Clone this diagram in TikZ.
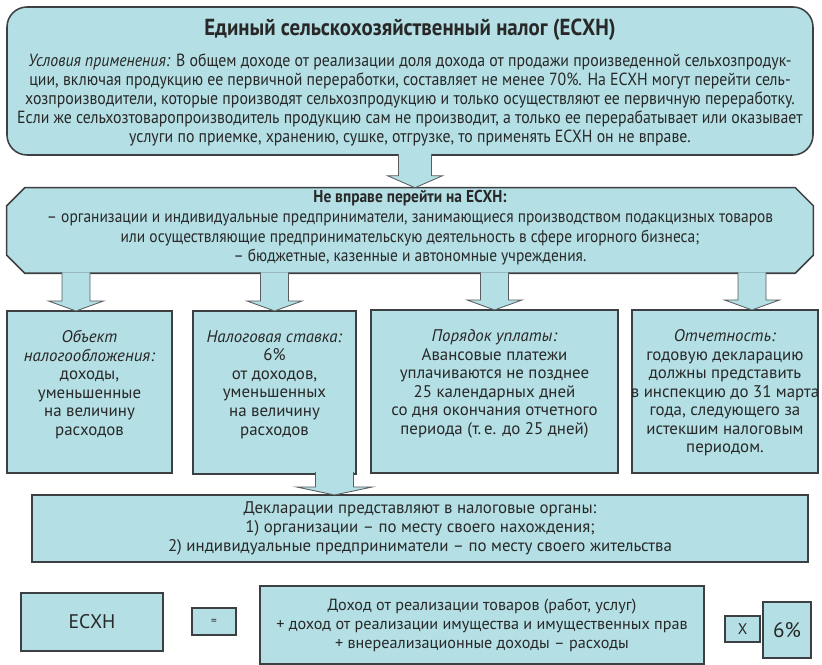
\documentclass[tikz,border=0pt]{standalone}
\usepackage{fontspec}
\setmainfont{PT Sans}
\newfontfamily\narrowfont[FakeStretch=0.9]{PT Sans}
\usepackage{tikz}
\usetikzlibrary{calc}

\definecolor{boxfill}{RGB}{180,223,228}
\definecolor{boxline}{RGB}{60,64,66}
\definecolor{textgray}{RGB}{40,40,40}

\tikzset{
	infobox/.style={shape=rectangle, draw=boxline, fill=boxfill, line width=1.1pt, inner sep=0pt, outer sep=0pt},
	boxpath/.style={draw=boxline, fill=boxfill, line width=1.1pt},
	arrowbody/.style={fill=boxfill, draw=boxline!85, line width=0.6pt},
	boxtext/.style={anchor=north, align=center, inner sep=0pt, text=textgray, font=\fontsize{12}{13.2}\selectfont},
	plaintext/.style={anchor=center, align=center, inner sep=0pt, text=textgray},
}

% wide block arrow: start, tip, shaft half width, head half width, head length
\newcommand{\blockarrow}[5]{%
	\filldraw[arrowbody] let \p1=(#1), \p2=(#2) in
		(\x2-#3,\y1) -- (\x2-#3,\y2+#5) -- (\x2-#4,\y2+#5) -- (\x2,\y2)
		-- (\x2+#4,\y2+#5) -- (\x2+#3,\y2+#5) -- (\x2+#3,\y1);}

\begin{document}
\begin{tikzpicture}
					\useasboundingbox (0, 0) rectangle (20.55, 16.625);
					% Boxes and texts:
					\node[infobox, rounded corners=0.5cm, minimum width=20.15cm, minimum height=3.7cm](N1) at (10.25, 14.6){};
					\node[plaintext, font=\narrowfont\fontsize{12.5}{13.5}\selectfont](T1) at ([yshift=-0.04cm]N1.center){{\bfseries\fontsize{16.5}{18}\selectfont Единый сельскохозяйственный налог (ЕСХН)}\\[9pt]
						\textit{Условия применения:} В общем доходе от реализации доля дохода от продажи произведенной сельхозпродук-\\
						ции, включая продукцию ее первичной переработки, составляет не менее 70\%. На ЕСХН могут перейти сель-\\
						хозпроизводители, которые производят сельхозпродукцию и только осуществляют ее первичную переработку.\\
						Если же сельхозтоваропроизводитель продукцию сам не производит, а только ее перерабатывает или оказывает\\
						услуги по приемке, хранению, сушке, отгрузке, то применять ЕСХН он не вправе.};
					\node[minimum width=20.15cm, minimum height=2.125cm, inner sep=0pt](N2) at (10.25, 10.863){};
					\filldraw[boxpath] ([xshift=0.45cm]N2.north west) -- ([xshift=-0.45cm]N2.north east) -- ([yshift=-0.45cm]N2.north east) -- ([yshift=0.45cm]N2.south east) -- ([xshift=-0.45cm]N2.south east) -- ([xshift=0.45cm]N2.south west) -- ([yshift=0.45cm]N2.south west) -- ([yshift=-0.45cm]N2.north west) -- cycle;
					\node[plaintext, font=\narrowfont\fontsize{12.2}{14}\selectfont](T2) at ([yshift=0.06cm]N2.center){{\bfseries Не вправе перейти на ЕСХН:}\\
						– организации и индивидуальные предприниматели, занимающиеся производством подакцизных товаров\\
						или осуществляющие предпринимательскую деятельность в сфере игорного бизнеса;\\
						– бюджетные, казенные и автономные учреждения.};
					\node[infobox, minimum width=4.125cm, minimum height=4.05cm](B1) at (2.238, 6.825){};
					\node[infobox, minimum width=4.075cm, minimum height=4.075cm](B2) at (6.863, 6.813){};
					\node[infobox, minimum width=6.175cm, minimum height=4.075cm](B3) at (12.363, 6.838){};
					\node[infobox, minimum width=4.65cm, minimum height=4.075cm](B4) at (18.125, 6.838){};
					\node[boxtext](L1) at ([yshift=-0.48cm]B1.north){\textit{Объект}\\ \textit{налогообложения:}\\ доходы,\\ уменьшенные\\ на величину\\ расходов};
					\node[boxtext](L2) at ([yshift=-0.48cm]B2.north){\textit{Налоговая ставка:}\\ 6\%\\ от доходов,\\ уменьшенных\\ на величину\\ расходов};
					\node[boxtext](L3) at ([yshift=-0.48cm]B3.north){\textit{Порядок уплаты:}\\ Авансовые платежи\\ уплачиваются не позднее\\ 25 календарных дней\\ со дня окончания отчетного\\ периода (т.\,е. до 25 дней)};
					\node[boxtext](L4) at ([yshift=-0.48cm]B4.north){\textit{Отчетность:}\\ годовую декларацию\\ должны представить\\ в инспекцию до 31 марта\\ года, следующего за\\ истекшим налоговым\\ периодом.};
					\node[infobox, minimum width=19.4cm, minimum height=1.675cm](D1) at (10.5, 3.413){};
					\node[plaintext, font=\fontsize{12}{13.5}\selectfont](T3) at (D1.center){Декларации представляют в налоговые органы:\\
						1) организации – по месту своего нахождения;\\
						2) индивидуальные предприниматели – по месту своего жительства};
					\node[infobox, minimum width=3.55cm, minimum height=1.45cm, text=textgray, font=\fontsize{14}{17}\selectfont](E1) at (2.3, 1.075){ЕСХН};
					\node[infobox, minimum width=1.1cm, minimum height=0.675cm, text=textgray, font=\fontsize{8}{10}\selectfont](Q1) at (5.35, 1.088){=};
					\node[infobox, minimum width=11.1cm, minimum height=1.95cm](F1) at (12.05, 1.0){};
					\node[plaintext, font=\fontsize{11.5}{13.5}\selectfont](T4) at (F1.center){Доход от реализации товаров (работ, услуг)\\
						+ доход от реализации имущества и имущественных прав\\
						+ внереализационные доходы – расходы};
					\node[infobox, minimum width=0.875cm, minimum height=0.65cm, text=textgray, font=\fontsize{11}{13}\selectfont](X1) at (18.563, 0.9){X};
					\node[infobox, minimum width=1.2cm, minimum height=1.4cm, text=textgray, font=\fontsize{15}{18}\selectfont](P1) at (19.675, 0.875){6\%};
					% Arrows:
					\blockarrow{[yshift=0.6pt]N1.south}{[xshift=0.125cm]N2.north}{0.413cm}{0.69cm}{0.3cm}
					\blockarrow{[yshift=0.6pt]N2.south}{[xshift=-0.338cm]B1.north}{0.35cm}{0.688cm}{0.25cm}
					\blockarrow{[yshift=0.6pt]N2.south}{B2.north}{0.35cm}{0.688cm}{0.25cm}
					\blockarrow{[yshift=0.6pt]N2.south}{B3.north}{0.35cm}{0.688cm}{0.25cm}
					\blockarrow{[yshift=0.6pt]N2.south}{[xshift=0.675cm]B4.north}{0.35cm}{0.688cm}{0.25cm}
					\blockarrow{[yshift=0.6pt]B3.south}{[xshift=-2.138cm]D1.north}{0.475cm}{0.95cm}{0.2cm}
				\end{tikzpicture}
\end{document}
